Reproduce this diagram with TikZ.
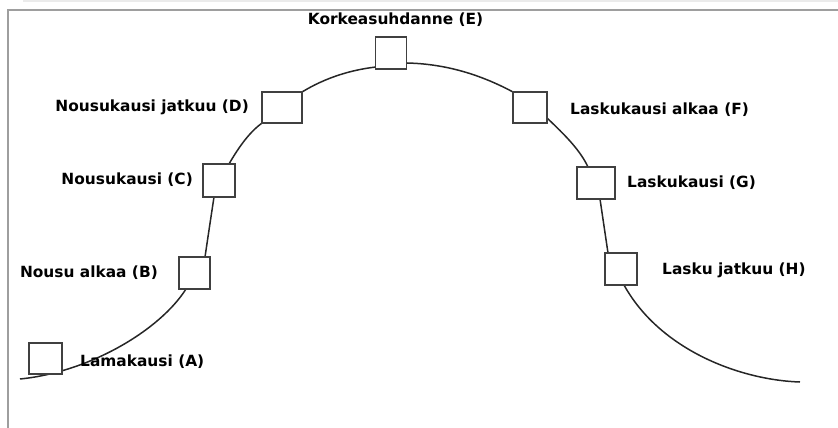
\documentclass[tikz,border=0pt]{standalone}
\usepackage{fontspec}
\setmainfont{DejaVu Sans}
\begin{document}
\begin{tikzpicture}[x=1pt,y=-1pt,
  box/.style={draw=black!75,line width=1.5pt,fill=white,minimum width=#1,inner sep=0pt},
  lbl/.style={font=\bfseries\fontsize{15.4}{15.4}\selectfont,inner sep=0pt,text=black},
  curve/.style={draw=black!85,line width=1.5pt},
  frame/.style={draw=black!38,line width=2pt}]
\useasboundingbox (0,0) rectangle (838,428);
\fill[black!8] (23,0) rectangle (838,2);
\draw[frame] (7.5,428) -- (7.5,10.5) -- (838,10.5);
% curve points
\coordinate (s) at (20,379);
\coordinate (b1) at (186,289);
\coordinate (b2) at (205,257);
\coordinate (c1) at (214,197);
\coordinate (c2) at (229,164);
\coordinate (d1) at (262,123);
\coordinate (d2) at (302,92);
\coordinate (e1) at (376,67);
\coordinate (e2) at (407,63);
\coordinate (f1) at (513,92);
\coordinate (f2) at (547,118);
\coordinate (g1) at (588,167);
\coordinate (g2) at (600,199);
\coordinate (h1) at (608,253);
\coordinate (h2) at (624,285);
\coordinate (t) at (800,382);
\draw[curve] (s) .. controls (90,372) and (160,330) .. (b1) -- (b2)
  .. controls (209,230) .. (c1) -- (c2)
  .. controls (240,145) and (250,132) .. (d1) -- (d2)
  .. controls (325,78) and (350,70) .. (e1) -- (e2)
  .. controls (450,64) and (485,77) .. (f1) -- (f2)
  .. controls (565,135) and (580,150) .. (g1) -- (g2)
  -- (h1) -- (h2)
  .. controls (660,350) and (740,380) .. (t);
% boxes
\node[box=33pt,minimum height=31pt] (A) at (45.5,358.5) {};
\node[box=31pt,minimum height=32pt] (B) at (194.5,273) {};
\node[box=32pt,minimum height=33pt] (C) at (219,180.5) {};
\node[box=40pt,minimum height=31pt] (D) at (282,107.5) {};
\node[box=31pt,minimum height=32pt] (E) at (391,53) {};
\node[box=34pt,minimum height=31pt] (F) at (530,107.5) {};
\node[box=38pt,minimum height=32pt] (G) at (596,183) {};
\node[box=32pt,minimum height=32pt] (H) at (621,269) {};
% labels
\node[lbl] (lE) at (395.5,20) {Korkeasuhdanne (E)};
\node[lbl,anchor=east] (lD) at (249,107) {Nousukausi jatkuu (D)};
\node[lbl,anchor=east] (lC) at (193,180) {Nousukausi (C)};
\node[lbl,anchor=east] (lB) at (158,273) {Nousu alkaa (B)};
\node[lbl,anchor=west] (lA) at (80,362) {Lamakausi (A)};
\node[lbl,anchor=west] (lF) at (570,110) {Laskukausi alkaa (F)};
\node[lbl,anchor=west] (lG) at (627,183) {Laskukausi (G)};
\node[lbl,anchor=west] (lH) at (662,270) {Lasku jatkuu (H)};
\end{tikzpicture}
\end{document}
